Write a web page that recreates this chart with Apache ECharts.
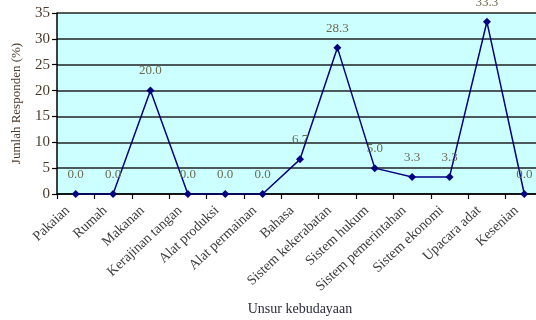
<!DOCTYPE html>
<html>
<head>
<meta charset="utf-8">
<script src="https://cdn.jsdelivr.net/npm/echarts@6/dist/echarts.min.js"></script>
<style>html,body{margin:0;padding:0;background:#fff}#c{width:536px;height:320px}</style>
</head>
<body>
<div id="c"></div>
<script>
var categories = ["Pakaian","Rumah","Makanan","Kerajinan tangan","Alat produksi","Alat permainan","Bahasa","Sistem kekerabatan","Sistem hukum","Sistem pemerintahan","Sistem ekonomi","Upacara adat","Kesenian"];
var values = [0.0,0.0,20.0,0.0,0.0,0.0,6.7,28.3,5.0,3.3,3.3,33.3,0.0];
var yTicks = [0,5,10,15,20,25,30,35];

var chart = echarts.init(document.getElementById('c'), null, {renderer:'canvas'});
var serif = '"Liberation Serif","DejaVu Serif",serif';
chart.setOption({
  animation:false,
  grid:{left:57, top:13, height:181, width:486, outerBoundsMode:'none', containLabel:false, show:true, backgroundColor:'#ccffff', borderWidth:0},
  xAxis:{
    type:'category', data:categories, boundaryGap:true,
    name:'Unsur kebudayaan', nameLocation:'middle', nameGap:108,
    nameTextStyle:{fontFamily:serif, fontSize:14, color:'#2b2b3b'},
    axisLine:{lineStyle:{color:'#000', width:1.5}},
    axisTick:{show:true, inside:false, length:5, lineStyle:{color:'#000', width:1.2}},
    axisLabel:{rotate:43, fontFamily:serif, fontSize:14, color:'#3a3a3a', margin:7, interval:0, padding:[0,11,0,0]},
    splitLine:{show:false}
  },
  yAxis:{
    type:'value', min:0, max:35, interval:5,
    name:'Jumlah Responden (%)', nameLocation:'middle', nameGap:34, nameRotate:90,
    nameTextStyle:{fontFamily:serif, fontSize:13, color:'#4a3a2a'},
    axisLine:{show:true, lineStyle:{color:'#000', width:1.5}},
    axisTick:{show:true, inside:false, length:5, lineStyle:{color:'#000', width:1.2}},
    axisLabel:{fontFamily:serif, fontSize:15, color:'#4a3a2a', margin:7,
      formatter:function(v){return yTicks.indexOf(v)>=0?String(v):'';}},
    splitLine:{show:true, lineStyle:{color:'#222', width:1.5}}
  },
  series:[{
    type:'line', data:values,
    symbol:'diamond', symbolSize:8,
    lineStyle:{color:'#000080', width:1.5},
    itemStyle:{color:'#000080'},
    label:{show:true, position:'top', distance:9, fontFamily:serif, fontSize:13, color:'#6b6b4f',
      formatter:function(p){return p.value.toFixed(1);}}
  }]
});
</script>
</body>
</html>
